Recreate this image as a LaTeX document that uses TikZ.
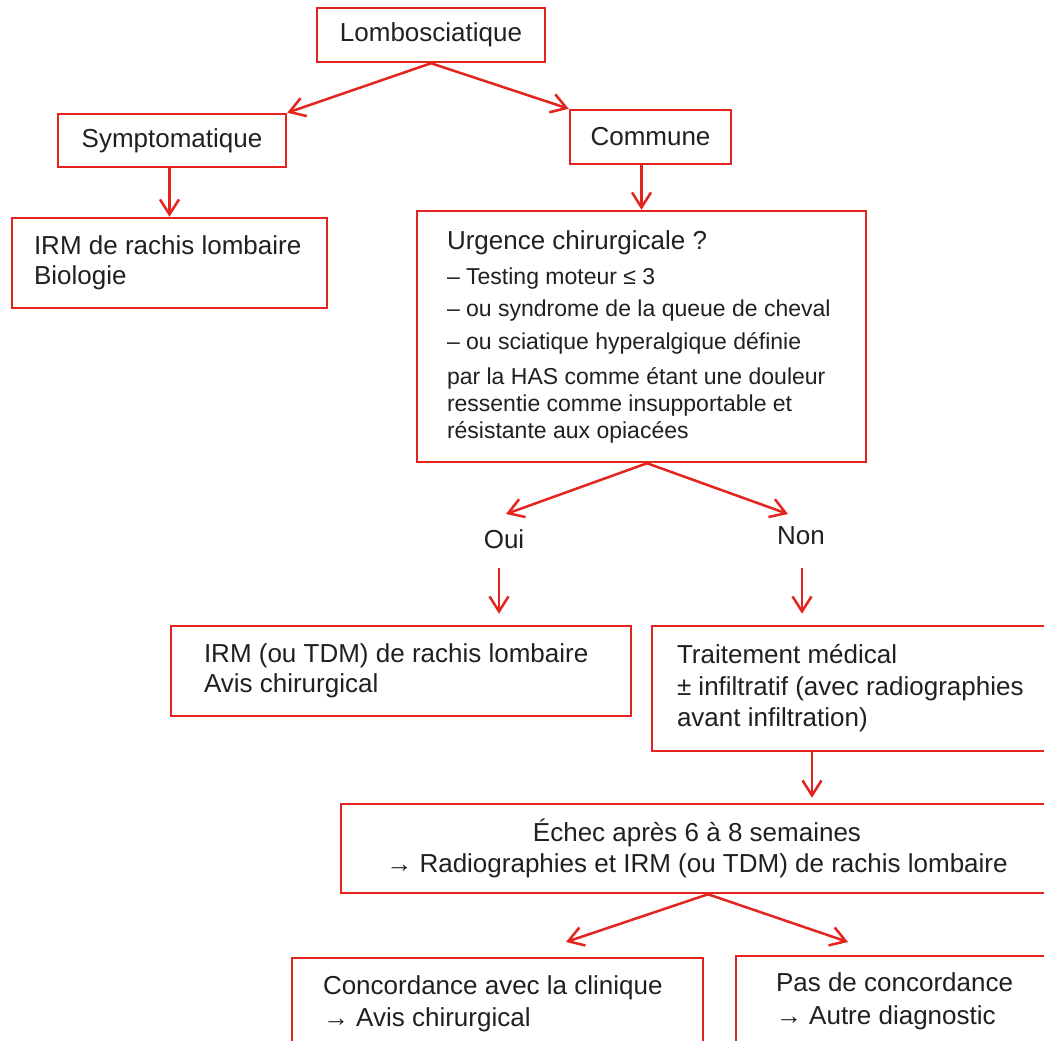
\documentclass[tikz,border=0pt]{standalone}
\usepackage{fontspec}
\setmainfont{Liberation Sans}
\usetikzlibrary{arrows.meta}
\definecolor{lred}{RGB}{228,36,30}
\definecolor{ink}{RGB}{35,31,32}
\newcommand\oneline[1]{\mbox{#1}}
\begin{document}
\begin{tikzpicture}[x=1pt,y=-1pt,
  box/.style={draw=lred, line width=2.5pt, rectangle, text=ink, inner ysep=0pt},
  arr/.style={draw=lred, line width=2.5pt, -{Straight Barb[length=15pt,width=19pt]}},
  big/.style={font=\fontsize{26}{31}\selectfont},
  lbl/.style={text=ink, font=\fontsize{26}{31}\selectfont, anchor=base, inner sep=0pt}]
\useasboundingbox (0,0) rectangle (1044,1041);
\clip (0,0) rectangle (1044,1041);
\fill[white] (0,0) rectangle (1044,1041);

\node[box, big, minimum width=228, minimum height=54, align=center] (lombo) at (431,35) {Lombosciatique};
\node[box, big, minimum width=228, minimum height=53, align=center] (sympt) at (172,140.5) {Symptomatique};
\node[box, big, minimum width=161, minimum height=54, align=center] (commune) at (650.5,137) {Commune};
\node[box, font=\fontsize{26}{30}\selectfont, text width=271, inner xsep=22, minimum height=90, align=flush left] (irm1) at (169.5,263)
 {\oneline{IRM de rachis lombaire}\\\oneline{Biologie}};
\node[box, font=\fontsize{23}{27}\selectfont, text width=389, inner xsep=30, minimum height=251, align=flush left] (urg) at (641.5,336.5)
 {\oneline{\fontsize{26}{27}\selectfont Urgence chirurgicale ?}\\[8pt]
  \oneline{– Testing moteur ≤ 3}\\[5.5pt]
  \oneline{– ou syndrome de la queue de cheval}\\[5.5pt]
  \oneline{– ou sciatique hyperalgique définie}\\[8pt]
  \oneline{par la HAS comme étant une douleur}\\
  \oneline{ressentie comme insupportable et}\\
  \oneline{résistante aux opiacées}};
\node[lbl] (oui) at (504,548) {Oui};
\node[lbl] (non) at (801,544) {Non};
\node[box, font=\fontsize{26}{30}\selectfont, text width=394, inner xsep=33, minimum height=90, align=flush left] (irm2) at (401,671)
 {\oneline{IRM (ou TDM) de rachis lombaire}\\\oneline{Avis chirurgical}};
\node[box, font=\fontsize{26}{31.5}\selectfont, text width=370, inner xsep=25, minimum height=125, align=flush left] (trait) at (862,688.5)
 {\oneline{Traitement médical}\\\oneline{± infiltratif (avec radiographies}\\\oneline{avant infiltration)}};
\node[box, font=\fontsize{26}{31}\selectfont, minimum width=712, minimum height=89, align=center] (echec) at (697,848.5)
 {Échec après 6 à 8 semaines\\→ Radiographies et IRM (ou TDM) de rachis lombaire};
\node[box, font=\fontsize{26}{32}\selectfont, text width=349, inner xsep=31, minimum height=92, align=flush left] (conc) at (497.5,1004)
 {\oneline{Concordance avec la clinique}\\\oneline{→ Avis chirurgical}};
\node[box, font=\fontsize{26}{33}\selectfont, text width=284, inner xsep=40, minimum height=91, align=flush left] (pas) at (918,1001.5)
 {\oneline{Pas de concordance}\\\oneline{→ Autre diagnostic}};

\coordinate (ouiTip) at (506,514);
\coordinate (nonTip) at (788,514);
\coordinate (concTip) at (566,942);
\coordinate (pasTip) at (848,942);

\draw[arr] (lombo.south) -- (sympt.north east);
\draw[arr] (lombo.south) -- (commune.north west);
\draw[arr] (irm1.north |- sympt.south) -- (irm1.north);
\draw[arr] (urg.north |- commune.south) -- (urg.north);
\draw[arr] ([xshift=5.5pt]urg.south) -- (ouiTip);
\draw[arr] ([xshift=5.5pt]urg.south) -- (nonTip);
\draw[arr, shorten <=20pt, shorten >=11pt] ([xshift=-5pt]oui.south) -- ([xshift=-5pt]oui.south |- irm2.north);
\draw[arr, shorten <=24pt, shorten >=11pt] ([xshift=1pt]non.south) -- ([xshift=1pt]non.south |- irm2.north);
\draw[arr, shorten >=5pt] ([xshift=-50pt]trait.south) -- ([xshift=-50pt]trait.south |- echec.north);
\draw[arr] ([xshift=11pt]echec.south) -- (concTip);
\draw[arr] ([xshift=11pt]echec.south) -- (pasTip);
\end{tikzpicture}
\end{document}
